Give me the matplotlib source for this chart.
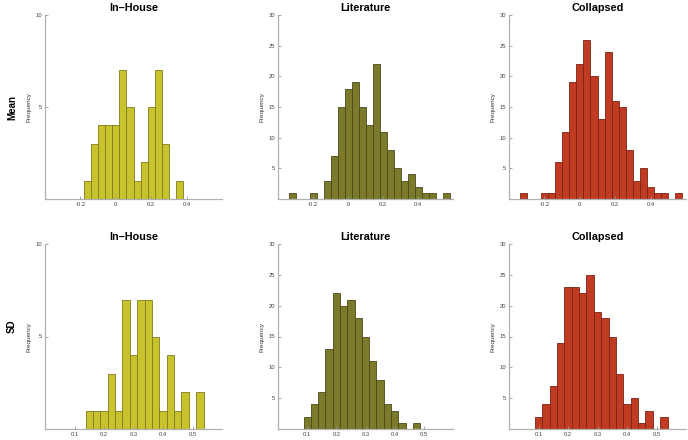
import matplotlib
matplotlib.use('Agg')
import matplotlib.pyplot as plt
import numpy as np

plt.rcParams['font.family'] = ['Liberation Sans', 'DejaVu Sans']

# Histogram bin layout (left edges) and counts
mean_bin_start = -0.34
mean_bin_width = 0.04
sd_bin_start = 0.0875
sd_bin_width = 0.025

mean_inhouse = [0, 0, 0, 0, 1, 3, 4, 4, 4, 7, 5, 1, 2, 5, 7, 3, 0, 1, 0, 0, 0, 0, 0, 0]
mean_literature = [1, 0, 0, 1, 0, 3, 7, 15, 18, 19, 15, 12, 22, 11, 8, 5, 3, 4, 2, 1, 1, 0, 1, 0]
mean_collapsed = [1, 0, 0, 1, 1, 6, 11, 19, 22, 26, 20, 13, 24, 16, 15, 8, 3, 5, 2, 1, 1, 0, 1, 0]

sd_inhouse = [0, 0, 1, 1, 1, 3, 1, 7, 4, 7, 7, 5, 1, 4, 1, 2, 0, 2]
sd_literature = [2, 4, 6, 13, 22, 20, 21, 18, 15, 11, 8, 4, 3, 1, 0, 1, 0, 0]
sd_collapsed = [2, 4, 7, 14, 23, 23, 22, 25, 19, 18, 15, 9, 4, 5, 1, 3, 0, 2]

col_titles = ['In\u2013House', 'Literature', 'Collapsed']
row_titles = ['Mean', 'SD']
face_colors = ['#c8c32c', '#7b7a2b', '#c03b21']
edge_colors = ['#7f7c1c', '#4a4a18', '#7a2414']

mean_xticks = [-0.2, 0, 0.2, 0.4]
mean_xticklabels = ['-0.2', '0', '0.2', '0.4']
sd_xticks = [0.1, 0.2, 0.3, 0.4, 0.5]
sd_xticklabels = ['0.1', '0.2', '0.3', '0.4', '0.5']

rows = [
    (mean_bin_start, mean_bin_width, [mean_inhouse, mean_literature, mean_collapsed],
     (-0.4, 0.6), mean_xticks, mean_xticklabels),
    (sd_bin_start, sd_bin_width, [sd_inhouse, sd_literature, sd_collapsed],
     (0, 0.6), sd_xticks, sd_xticklabels),
]

fig = plt.figure(figsize=(6.88, 4.40), dpi=100)

lefts = [45 / 688, 278 / 688, 509 / 688]
widths = [177 / 688, 175 / 688, 177 / 688]
bottoms = [1 - 199 / 440, 1 - 429 / 440]
heights = [184 / 440, 185 / 440]

for r, (start, width, series, xlim, xticks, xticklabels) in enumerate(rows):
    for c, counts in enumerate(series):
        ax = fig.add_axes([lefts[c], bottoms[r], widths[c], heights[r]])
        edges = start + width * np.arange(len(counts))
        ax.bar(edges, counts, width=width, align='edge',
               color=face_colors[c], edgecolor=edge_colors[c], linewidth=0.6)
        ax.set_xlim(*xlim)
        ymax = 10 if c == 0 else 30
        ax.set_ylim(0, ymax)
        ax.set_yticks(list(range(5, ymax + 1, 5)))
        ax.set_xticks(xticks)
        ax.set_xticklabels(xticklabels)
        ax.tick_params(direction='in', length=2, width=0.6, colors='#999999',
                       labelcolor='#444444', labelsize=4.2, pad=2)
        for s in ['top', 'right']:
            ax.spines[s].set_visible(False)
        for s in ['left', 'bottom']:
            ax.spines[s].set_color('#b0b0b0')
            ax.spines[s].set_linewidth(0.9)
        ax.set_ylabel('Frequency', fontsize=4.6, color='#333333', labelpad=3)
        ax.set_title(col_titles[c], fontsize=7.8, fontweight='bold', pad=3)

fig.text(12 / 688, 1 - 107 / 440, row_titles[0], rotation=90, fontsize=7,
         fontweight='bold', ha='center', va='center')
fig.text(12 / 688, 1 - 326 / 440, row_titles[1], rotation=90, fontsize=7,
         fontweight='bold', ha='center', va='center')

fig.savefig('out.png', dpi=100)
